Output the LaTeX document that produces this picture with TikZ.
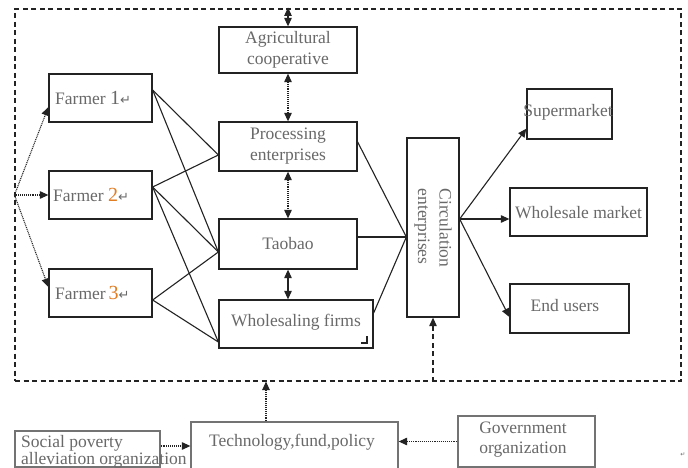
\documentclass[tikz,border=0pt]{standalone}
\usepackage{fontspec}
\setmainfont{Liberation Serif}
\newfontfamily\symfont{DejaVu Sans}
\usetikzlibrary{arrows.meta,calc}
\definecolor{txtgray}{RGB}{105,105,105}
\definecolor{lineblk}{RGB}{35,35,35}
\definecolor{numorange}{RGB}{225,125,35}
\newcommand\retmark{{\symfont\fontsize{13}{13}\selectfont ↵}}
\newcommand\bignum[1]{{\fontsize{20}{20}\selectfont #1}}
\begin{document}
\begin{tikzpicture}[x=1pt,y=-1pt,
  box/.style={draw=lineblk,line width=1.3pt,inner sep=0pt,rectangle},
  txt/.style={text=txtgray,font=\fontsize{17.5}{21.5}\selectfont,inner sep=0pt,align=center},
  link/.style={draw=lineblk,line width=1.1pt},
  dotline/.style={draw=lineblk,line width=1.1pt,dash pattern=on 1pt off 0.9pt},
  dashline/.style={draw=lineblk,line width=1.1pt,dash pattern=on 5pt off 3.5pt},
  tip/.style={-{Triangle[length=8.5pt,width=7.5pt]}},
  dtip/.style={{Triangle[length=8.5pt,width=7.5pt]}-{Triangle[length=8.5pt,width=7.5pt]}}
]
\useasboundingbox (0,0) rectangle (688,468);
\fill[white] (0,0) rectangle (688,468);

% outer dashed frame
\node[dashline,inner sep=0pt,minimum width=666pt,minimum height=372pt] (frame) at (348,195) {};

% boxes
\node[box,minimum width=138pt,minimum height=46pt] (agri) at (288,50) {};
\node[txt] (agrit) at (288,50) {Agricultural\\cooperative};
\node[box,minimum width=138pt,minimum height=49pt] (proc) at (288,146.5) {};
\node[txt] (proct) at (288,146) {Processing\\enterprises};
\node[box,minimum width=138pt,minimum height=50pt] (taob) at (288,244) {};
\node[txt] (taobt) at (288,244) {Taobao};
\node[box,minimum width=154pt,minimum height=48pt] (whf) at (296,324) {};
\node[txt] (whft) at (296,322) {Wholesaling firms};
\draw[line width=1.1pt,lineblk] (361,343) -- (367,343) -- (367,336);

\node[box,minimum width=52pt,minimum height=179pt] (circ) at (433,227.5) {};
\node[txt,rotate=-90,align=left] (circt) at (433,228) {Circulation\\enterprises};

\node[box,minimum width=85pt,minimum height=50pt] (sup) at (569.5,114) {};
\node[txt] (supt) at (568,112) {Supermarket};
\node[box,minimum width=137pt,minimum height=48pt] (wmk) at (578.5,212) {};
\node[txt] (wmkt) at (578.5,213) {Wholesale market};
\node[box,minimum width=119pt,minimum height=49pt] (endu) at (569.5,308.5) {};
\node[txt] (endut) at (565,306) {End users};

\node[box,minimum width=103pt,minimum height=48pt] (f1) at (100.5,98) {};
\node[txt,anchor=west] (f1t) at (55,98) {Farmer \bignum{1}\retmark};
\node[box,minimum width=103pt,minimum height=48pt] (f2) at (100.5,195) {};
\node[txt,anchor=west] (f2t) at (53,195) {Farmer \textcolor{numorange}{\bignum{2}}\retmark};
\node[box,minimum width=103pt,minimum height=48pt] (f3) at (100.5,293) {};
\node[txt,anchor=west] (f3t) at (55,293) {Farmer\,\textcolor{numorange}{\bignum{3}}\retmark};

% bottom boxes
\node[box,draw=black!55,minimum width=145pt,minimum height=36pt] (soc) at (87.5,449) {};
\node[txt,anchor=north west,align=left,font=\fontsize{17.5}{15}\selectfont] (soct) at (21,435.5) {Social poverty\\alleviation organization};
\node[box,draw=black!55,minimum width=207pt,minimum height=50pt] (tech) at (294.5,447) {};
\node[txt] (techt) at (292,442) {Technology,fund,policy};
\node[box,draw=black!55,minimum width=137pt,minimum height=51pt] (gov) at (526.5,441.5) {};
\node[txt,font=\fontsize{17.5}{20}\selectfont] (govt) at (523,440) {Government\\organization};

% farmers to intermediaries
\draw[link] ([yshift=8pt]f1.east) -- ([yshift=-8.5pt]proc.west);
\draw[link] ([yshift=8pt]f1.east) -- ([yshift=-8pt]taob.west);
\draw[link] ([yshift=8pt]f2.east) -- ([yshift=-8.5pt]proc.west);
\draw[link] ([yshift=8pt]f2.east) -- ([yshift=-8pt]taob.west);
\draw[link] ([yshift=8pt]f2.east) -- ([yshift=-18pt]whf.west);
\draw[link] ([yshift=-7pt]f3.east) -- ([yshift=-8pt]taob.west);
\draw[link] ([yshift=-7pt]f3.east) -- ([yshift=-18pt]whf.west);

% intermediaries to circulation
\draw[link] ([yshift=4.5pt]proc.east) -- ([yshift=-9.5pt]circ.west);
\draw[link] ([yshift=7pt]taob.east) -- ([yshift=-9.5pt]circ.west);
\draw[link] ([yshift=11pt]whf.east) -- ([yshift=-9.5pt]circ.west);

% circulation to markets
\draw[link,tip] ([yshift=8.5pt]circ.east) -- ([yshift=11pt]sup.south west);
\draw[link,tip] ([yshift=8.5pt]circ.east) -- ([yshift=-7pt]wmk.west);
\draw[link,tip] ([yshift=8.5pt]circ.east) -- ([yshift=-8.5pt]endu.west);

% vertical double arrows
\draw[link,dtip,shorten <=-1pt] (frame.north -| agri) -- (agri.north);
\draw[dotline,dtip] (agri.south) -- (proc.north);
\draw[dotline,dtip] (proc.south) -- (taob.north);
\draw[link,dtip] (taob.south) -- (whf.north -| taob);

% farmers fed from left
\draw[dotline,tip] (frame.west) -- ([yshift=-9pt]f1.west);
\draw[dotline,tip] (frame.west) -- (f2.west);
\draw[dotline,tip] (frame.west) -- ([yshift=6pt]f3.west);

% bottom support
\draw[dotline,tip] ([xshift=-28.5pt]tech.north) -- ([xshift=-28.5pt]tech.north |- frame.south);
\draw[dashline,tip] (frame.south -| circ) -- (circ.south);
\draw[dotline,tip] ([yshift=3pt]soc.east) -- ([yshift=1pt]tech.west);
\draw[dotline,tip] (gov.west) -- (tech.east |- gov.west);

\node[text=txtgray,inner sep=0pt] (pmark) at (683,455) {\symfont\fontsize{6}{6}\selectfont ↵};
\end{tikzpicture}
\end{document}
